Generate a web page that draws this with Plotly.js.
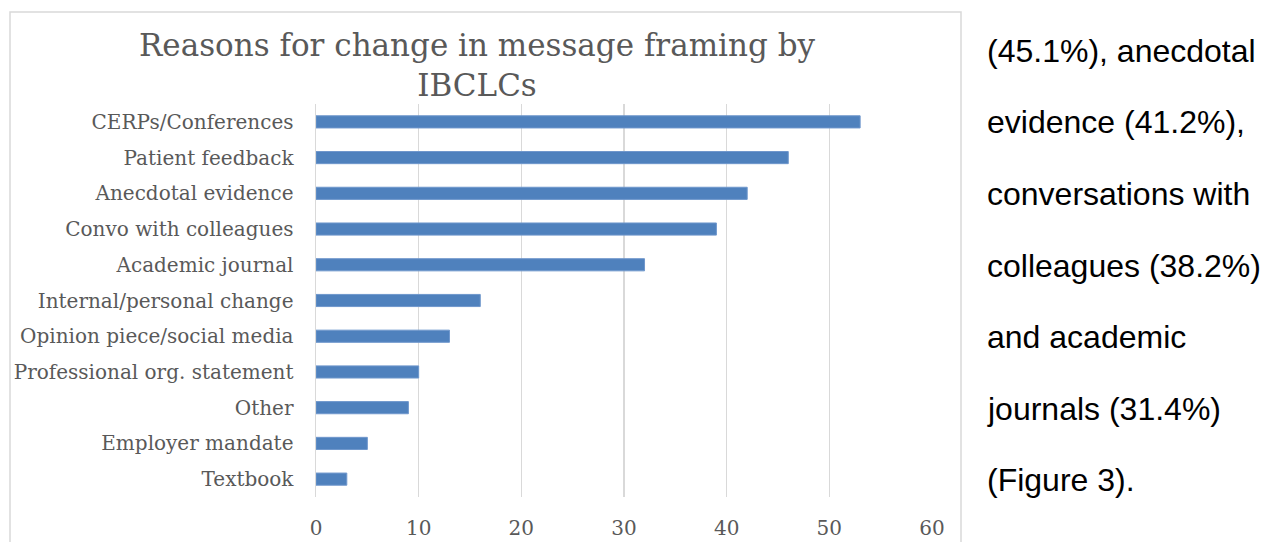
<!DOCTYPE html>
<html>
<head>
<meta charset="utf-8">
<script src="https://cdn.plot.ly/plotly-3.0.1.min.js"></script>
<style>
html,body{margin:0;padding:0;background:#fff;}
#chart{width:1268px;height:542px;}
</style>
</head>
<body>
<div id="chart"></div>
<script>
const categories = [
  "CERPs/Conferences",
  "Patient feedback",
  "Anecdotal evidence",
  "Convo with colleagues",
  "Academic journal",
  "Internal/personal change",
  "Opinion piece/social media",
  "Professional org. statement",
  "Other",
  "Employer mandate",
  "Textbook"
];
const counts = [53, 46, 42, 39, 32, 16, 13, 10, 9, 5, 3];
const tickValues = [0, 10, 20, 30, 40, 50, 60];
const titleText = "Reasons for change in message framing by<br>IBCLCs";
const sideText = [
  "(45.1%), anecdotal",
  "evidence (41.2%),",
  "conversations with",
  "colleagues (38.2%)",
  "and academic",
  "journals (31.4%)",
  "(Figure 3)."
];

const W = 1268, H = 542;
const L = 316, R = 932, T = 104, B = 497;
const px2x = p => (p - L) / (R - L);
const py2y = p => (B - p) / (B - T);

const serif = "DejaVu Serif, Liberation Serif, serif";

const annotations = sideText.map((t, i) => ({
  text: t,
  xref: 'paper', yref: 'paper',
  x: px2x(985), y: py2y(51 + i * 71.5),
  xanchor: 'left', yanchor: 'middle',
  showarrow: false,
  font: {family: 'Liberation Sans, Arial, sans-serif', size: 32, color: '#000'}
}));

const data = [{
  type: 'bar',
  orientation: 'h',
  x: counts,
  y: categories,
  marker: {color: '#4F81BD', line: {color: '#6F97CC', width: 1}},
  width: 0.34,
  hoverinfo: 'skip'
}];

const layout = {
  width: W, height: H,
  margin: {l: L, r: W - R, t: T, b: H - B, pad: 0},
  paper_bgcolor: '#fff',
  plot_bgcolor: '#fff',
  showlegend: false,
  title: {
    text: titleText,
    xref: 'container', yref: 'container',
    x: 477 / W, xanchor: 'center',
    y: 1 - 56 / H, yanchor: 'top',
    font: {family: serif, size: 31, color: '#595959'}
  },
  xaxis: {
    range: [0, 60],
    tickvals: tickValues,
    ticktext: tickValues.map(String),
    showgrid: true,
    gridcolor: '#d9d9d9',
    gridwidth: 1.5,
    zeroline: false,
    showline: false,
    ticks: '',
    ticklabelstandoff: 17,
    tickfont: {family: serif, size: 20, color: '#595959'},
    fixedrange: true
  },
  yaxis: {
    categoryorder: 'array',
    categoryarray: categories.slice().reverse(),
    autorange: false,
    range: [-0.5, categories.length - 0.5],
    showgrid: false,
    zeroline: false,
    showline: true,
    linecolor: '#d9d9d9',
    linewidth: 1.5,
    ticks: '',
    ticklabelstandoff: 17,
    tickfont: {family: serif, size: 20, color: '#595959'},
    fixedrange: true
  },
  shapes: [{
    type: 'rect',
    xref: 'paper', yref: 'paper',
    x0: px2x(10), x1: px2x(961),
    y0: py2y(560), y1: py2y(12),
    line: {color: '#d9d9d9', width: 1.5},
    fillcolor: 'rgba(0,0,0,0)',
    layer: 'below'
  }],
  annotations: annotations
};

Plotly.newPlot('chart', data, layout, {displayModeBar: false, staticPlot: true});
</script>
</body>
</html>
